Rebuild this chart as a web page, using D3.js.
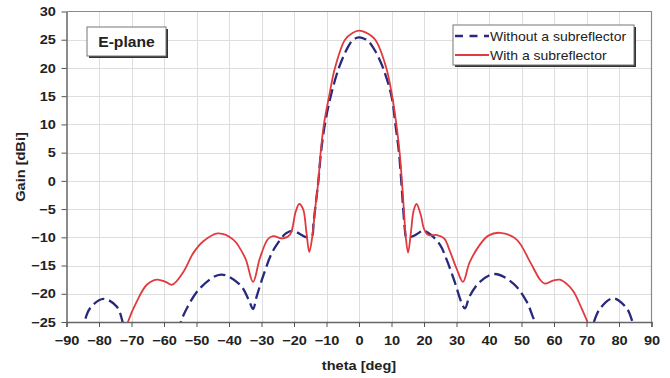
<!DOCTYPE html>
<html>
<head>
<meta charset="utf-8">
<title>E-plane gain</title>
<script src="https://cdn.jsdelivr.net/npm/d3@7"></script>
<style>
  body { margin: 0; background: #fff; }
  text { font-family: "Liberation Sans", Arial, sans-serif; fill: #222; }
</style>
</head>
<body>
<svg width="670" height="378"></svg>
<script>
// tick values
const xTicks = d3.range(-90, 91, 10);
const yTicks = d3.range(-25, 31, 5);

// "With a subreflector" (red, solid)
const thetaWith = [-73, -71.1, -68.4, -65.3, -62.2, -59.5, -57.5, -54, -51, -47.9, -43.4, -38.7, -35, -32.6, -30.5, -28, -26.4, -23.4, -21.2, -19.5, -18.4, -17.2, -16.2, -15.3, -14.4, -13.5, -12.5, -11.8, -10.8, -9.2, -7.4, -4.3, -2, 0, 2, 5, 8.4, 10.2, 11.5, 12.5, 13.2, 13.8, 14.4, 15.1, 16, 16.8, 17.7, 19, 20, 21.3, 24, 26.2, 28, 30, 32, 34, 37.2, 39.8, 43.4, 48.5, 52.6, 55.7, 57.2, 59.5, 61.8, 64, 66, 68.5, 70.6, 72];
const gainWith = [-29, -25, -21.4, -18.4, -17.5, -17.9, -18.4, -16.1, -12.8, -10.7, -9.3, -10.4, -13.7, -17.9, -13.7, -10.3, -9.8, -10.2, -9.5, -5.5, -4.1, -5, -9, -12.6, -10, -5, 0, 5, 10, 15, 20, 25, 26.2, 26.6, 26.3, 25, 20, 15, 10, 5, 0, -5, -10, -12.7, -9, -5.3, -4.1, -6, -8.5, -9.6, -9.6, -10.2, -12.5, -15.5, -17.9, -14.5, -11.3, -9.7, -9.2, -10.4, -14.3, -17.5, -18.2, -17.7, -17.5, -18.3, -19.6, -22.6, -25.5, -29];

// "Without a subreflector" (blue, dashed)
const thetaWithout = [-88, -85, -82.8, -78.6, -74.5, -72.5, -71, -63, -56, -55, -53, -48.9, -42.5, -36.6, -34, -32.6, -31.5, -29.4, -27, -25.3, -22.5, -20.2, -18.2, -16, -14.5, -14, -13.5, -12.5, -11.7, -10.5, -8.7, -6.2, -3.5, -1.8, 0, 1.5, 2.8, 5, 7.4, 10, 11.2, 12.3, 13, 13.6, 14.1, 14.6, 16.6, 18.2, 19.7, 22, 24.9, 27, 29.5, 31.5, 32.6, 34, 37.2, 41.8, 47.5, 51.6, 53.5, 54.5, 56, 64, 71, 72, 74.2, 78.2, 82.4, 84.3, 86];
const gainWithout = [-30, -25.9, -22.6, -20.9, -22.3, -25.4, -28, -32, -28, -25.3, -22.6, -19, -16.6, -18.4, -21, -22.7, -20.5, -16.7, -13, -11.3, -9.3, -8.8, -9.4, -10, -9.8, -7.5, -5, 0, 5, 10, 15, 20, 23.6, 25, 25.4, 25.2, 24.8, 23, 20, 15, 10, 5, 0, -5, -8.5, -10, -9.8, -9.3, -8.8, -9.5, -11.3, -14, -18, -21.5, -22.6, -20.5, -17.9, -16.5, -18.2, -21.4, -24.1, -25.5, -28, -32, -28, -25.5, -22.6, -20.8, -22.6, -25.3, -29];

const svg = d3.select("svg");
const stretch = 1.12; // reference lettering is a bit wider than Liberation Sans

const x = d3.scaleLinear().domain([-90, 90]).range([66.5, 651.5]);
const y = d3.scaleLinear().domain([-25, 30]).range([322, 11.5]);

// gridlines
const grid = svg.append("g").attr("stroke", "#dedede").attr("stroke-width", 1);
grid.selectAll("line.v").data(xTicks.slice(1, -1)).enter().append("line")
  .attr("x1", d => Math.round(x(d)) + 0.5).attr("x2", d => Math.round(x(d)) + 0.5)
  .attr("y1", y(30)).attr("y2", y(-25));
grid.selectAll("line.h").data(yTicks.slice(1, -1)).enter().append("line")
  .attr("x1", x(-90)).attr("x2", x(90))
  .attr("y1", d => Math.round(y(d)) + 0.5).attr("y2", d => Math.round(y(d)) + 0.5);

// top / right frame
svg.append("path")
  .attr("d", `M${x(-90)},${y(30)}H${x(90)}V${y(-25)}`)
  .attr("fill", "none").attr("stroke", "#8a8a8a").attr("stroke-width", 1.2);

// clip
svg.append("clipPath").attr("id", "plot").append("rect")
  .attr("x", x(-90)).attr("y", y(30)).attr("width", x(90) - x(-90)).attr("height", y(-25) - y(30));

const line = d3.line()
  .x(d => x(d[0])).y(d => y(d[1]))
  .curve(d3.curveCatmullRom.alpha(0.5));

const curves = svg.append("g").attr("clip-path", "url(#plot)");
curves.append("path")
  .datum(d3.zip(thetaWithout, gainWithout))
  .attr("d", line)
  .attr("fill", "none").attr("stroke", "#28297c").attr("stroke-width", 2.3)
  .attr("stroke-dasharray", "12,5");
curves.append("path")
  .datum(d3.zip(thetaWith, gainWith))
  .attr("d", line)
  .attr("fill", "none").attr("stroke", "#e03a3e").attr("stroke-width", 1.8);

// axes
const xAxis = svg.append("g")
  .attr("transform", `translate(0,${y(-25)})`)
  .call(d3.axisBottom(x).tickValues(xTicks).tickSize(5).tickPadding(9));
const yAxis = svg.append("g")
  .attr("transform", `translate(${x(-90)},0)`)
  .call(d3.axisLeft(y).tickValues(yTicks).tickSize(5).tickPadding(4.5).tickSizeOuter(0));
[xAxis, yAxis].forEach(a => {
  a.select(".domain").attr("stroke", "#666").attr("stroke-width", 1.5);
  a.selectAll(".tick line").attr("stroke", "#555");
  a.selectAll("text").attr("font-size", 13).attr("font-weight", "bold")
    .attr("font-family", "Liberation Sans, Arial, sans-serif").attr("fill", "#222")
    .attr("transform", `scale(${stretch},1)`);
});

// stretched text helper
function label(cx, cy, str, size, weight, anchor, rot) {
  svg.append("text")
    .attr("transform", `translate(${cx},${cy})${rot ? " rotate(-90)" : ""} scale(${stretch},1)`)
    .attr("text-anchor", anchor).attr("font-size", size).attr("font-weight", weight).text(str);
}

// axis titles
label(359, 370, "theta [deg]", 13, "bold", "middle");
label(25, 167, "Gain [dBi]", 13, "bold", "middle", true);

// E-plane box
const eb = { x: 87, y: 27, w: 79, h: 29 };
svg.append("rect").attr("x", eb.x + 2).attr("y", eb.y + 2).attr("width", eb.w).attr("height", eb.h).attr("fill", "#333");
svg.append("rect").attr("x", eb.x).attr("y", eb.y).attr("width", eb.w).attr("height", eb.h)
  .attr("fill", "#fff").attr("stroke", "#777").attr("stroke-width", 1);
label(eb.x + eb.w / 2, eb.y + 20, "E-plane", 14, "bold", "middle");

// legend
const lg = { x: 453, y: 25, w: 181, h: 40 };
svg.append("rect").attr("x", lg.x + 2).attr("y", lg.y + 2).attr("width", lg.w).attr("height", lg.h).attr("fill", "#333");
svg.append("rect").attr("x", lg.x).attr("y", lg.y).attr("width", lg.w).attr("height", lg.h)
  .attr("fill", "#fff").attr("stroke", "#777").attr("stroke-width", 1);
const legendItems = [
  { name: "Without a subreflector", color: "#28297c", dash: "8,6.5", w: 2.3 },
  { name: "With a subreflector", color: "#e03a3e", dash: null, w: 1.8 }
];
legendItems.forEach((d, i) => {
  const ly = lg.y + 11 + i * 19;
  svg.append("line").attr("x1", lg.x + 2).attr("x2", lg.x + 36).attr("y1", ly).attr("y2", ly)
    .attr("stroke", d.color).attr("stroke-width", d.w).attr("stroke-dasharray", d.dash);
  label(lg.x + 37, ly + 4.5, d.name, 12.5, "normal", "start");
});
</script>
</body>
</html>
